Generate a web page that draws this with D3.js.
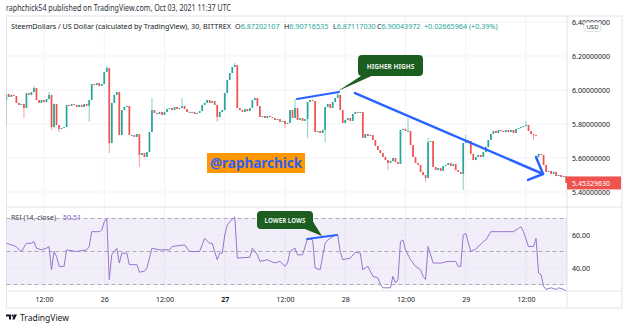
<!DOCTYPE html>
<html>
<head>
<meta charset="utf-8">
<script src="https://cdn.jsdelivr.net/npm/d3@7"></script>
<style>
  body { margin: 0; background: #fff; }
  svg { display: block; font-family: "Noto Sans", "Liberation Sans", sans-serif; }
</style>
</head>
<body>
<svg width="624" height="330"></svg>
<script>
// 30 minute candles, first one opens 2021-09-25 04:30 UTC
const startTime = "2021-09-25T04:30:00Z";
const firstOpen = 5.941;
const closes = [
  5.976, 5.959, 5.971, 5.965, 5.924, 5.912, 5.918, 5.894, 5.982, 5.971,
  5.988, 6.012, 5.941, 5.924, 5.941, 5.929, 5.947, 5.971, 5.782, 5.918,
  5.794, 5.771, 5.776, 5.782, 5.912, 5.906, 5.918, 5.912, 5.900, 5.912,
  5.900, 5.918, 5.906, 5.941, 6.035, 6.029, 6.041, 6.024, 6.035, 6.106,
  6.129, 5.688, 5.924, 5.971, 5.988, 5.735, 5.882, 5.900, 5.906, 5.735,
  5.735, 5.724, 5.741, 5.618, 5.629, 5.606, 5.635, 5.753, 5.882, 5.865,
  5.859, 5.871, 5.853, 5.871, 5.888, 5.894, 5.882, 5.900, 5.888, 5.894,
  5.906, 5.888, 5.871, 5.865, 5.871, 5.859, 5.865, 5.876, 5.912, 5.924,
  5.941, 5.924, 5.935, 5.912, 5.841, 5.871, 5.882, 5.982, 6.059, 6.100,
  6.135, 6.147, 5.894, 5.882, 5.871, 5.888, 5.876, 5.894, 5.941, 5.953,
  5.906, 5.841, 5.847, 5.835, 5.847, 5.841, 5.835, 5.824, 5.829, 5.812,
  5.818, 5.800, 5.806, 5.882, 5.835, 5.894, 5.824, 5.835, 5.818, 5.829,
  5.929, 5.941, 5.935, 5.753, 5.759, 5.747, 5.765, 5.900, 5.918, 5.894,
  5.929, 5.953, 5.971, 5.882, 5.806, 5.824, 5.835, 5.818, 5.859, 5.871,
  5.865, 5.871, 5.718, 5.741, 5.729, 5.735, 5.706, 5.671, 5.647, 5.629,
  5.606, 5.588, 5.571, 5.582, 5.600, 5.576, 5.565, 5.765, 5.771, 5.759,
  5.759, 5.676, 5.606, 5.571, 5.559, 5.518, 5.500, 5.482, 5.694, 5.700,
  5.547, 5.529, 5.541, 5.524, 5.553, 5.559, 5.571, 5.553, 5.565, 5.529,
  5.518, 5.506, 5.688, 5.706, 5.700, 5.624, 5.588, 5.606, 5.618, 5.606,
  5.635, 5.665, 5.706, 5.741, 5.759, 5.747, 5.765, 5.759, 5.753, 5.765,
  5.753, 5.765, 5.747, 5.771, 5.776, 5.782, 5.788, 5.794, 5.759, 5.741,
  5.735, 5.729, 5.624, 5.618, 5.559, 5.518, 5.524, 5.506, 5.518, 5.494,
  5.500, 5.488, 5.494, 5.453
];
// opens that do not equal the previous close
const gapOpens = { 212: 5.606 };
// long wicks: index -> [high, low]
const wicks = {
  0: [null, 5.794], 7: [null, 5.835], 11: [6.024, null], 17: [5.988, null],
  18: [null, 5.765], 21: [null, 5.753], 33: [null, 5.812], 40: [6.141, null],
  41: [null, 5.629], 53: [null, 5.547], 58: [5.953, null], 70: [5.953, null],
  84: [null, 5.812], 91: [6.159, null], 111: [null, 5.776], 115: [5.947, null],
  120: [null, 5.718], 127: [null, 5.694], 132: [5.982, null], 152: [null, 5.529],
  160: [5.835, null], 167: [null, 5.459], 168: [5.718, null], 182: [null, 5.412],
  183: [5.735, null], 207: [5.818, null], 210: [null, 5.706]
};
// RSI(14): [candle index, value]
const rsiPts = [
  [0,55],[2,54],[4,53],[5,51],[6,50],[8,55],[10,55],[11,56],[12,52],[14,51],[16,52],[17,53],
  [18,39],[19,50],[20,47],[21,41],[23,41],[24,51],[28,50],[32,51],[33,53],[34,62],[37,62],
  [38,63],[39,68],[40,70],[41,33],[42,48],[44,52],[45,43],[46,49],[48,49],[49,42],[52,42],
  [53,37.5],[55,38],[56,40],[57,46],[58,52],[61,51],[65,51],[66,53],[71,54],[73,50],[77,50],
  [79,58],[81,55],[82,55],[84,45],[85,49],[86,49],[87,60],[88,66],[89,68],[91,71],[92,46],
  [97,46.5],[98,52],[100,48],[101,44],[104,45],[107,43],[109,44],[111,41],[112,43],[113,50],
  [115,52],[116,48],[118,48],[120,58],[122,57],[123,40],[125,39],[127,55],[128,57],[131,60],
  [132,60],[133,50],[134,45],[137,46],[139,49.5],[141,49],[142,39],[144,41],[146,35],[148,34],
  [149,30],[150,28],[153,28],[154,35],[155,31],[156,33],[157,56],[158,57],[159,51],[161,45],
  [163,41],[165,39],[166,35],[167,33],[168,53],[170,43],[173,43],[176,44],[179,44],[180,41],
  [181,41],[182,60],[183,61],[185,50],[187,51.5],[190,56],[191,57],[193,62],[196,62],[199,62],
  [202,62],[204,64],[205,65],[206,62],[208,53],[209,53],[210,53],[211,58],[212,37],[213,36],
  [214,29],[215,27],[217,28],[219,27],[220,28],[222,27],[223,26]
];
const priceTicks = [5.4, 5.6, 5.8, 6.0, 6.2, 6.4];
const rsiTicks = [40, 60];
const rsiLevels = [70, 50, 30];
const timeTicks = ["2021-09-25T12:00Z", "2021-09-26T00:00Z", "2021-09-26T12:00Z", "2021-09-27T00:00Z",
  "2021-09-27T12:00Z", "2021-09-28T00:00Z", "2021-09-28T12:00Z", "2021-09-29T00:00Z", "2021-09-29T12:00Z"];
const lastPrice = 5.45329630;

// layout
const L = 6.5, R = 567, T = 16, PB = 207, RB = 291, AB = 308, OR = 622;
const svg = d3.select("svg");

const x = d3.scaleUtc()
  .domain([new Date("2021-09-25T12:00Z"), new Date("2021-09-29T12:00Z")])
  .range([44, 526]);
const y = d3.scaleLinear().domain([5.4, 6.4]).range([192, 22]);
const yr = d3.scaleLinear().domain([30, 70]).range([284.5, 218.5]);
const t0 = new Date(startTime).getTime();
const tOf = i => new Date(t0 + i * 30 * 60 * 1000);

const candles = closes.map((c, i) => {
  const o = i === 0 ? firstOpen : (gapOpens[i] !== undefined ? gapOpens[i] : closes[i - 1]);
  const w = wicks[i] || [null, null];
  return {
    t: tOf(i), o, c,
    h: Math.max(o, c, w[0] == null ? -Infinity : w[0]),
    l: Math.min(o, c, w[1] == null ? Infinity : w[1])
  };
});

// clip paths
const defs = svg.append("defs");
defs.append("clipPath").attr("id", "pclip").append("rect").attr("x", L).attr("y", T).attr("width", R - L).attr("height", PB - T);
defs.append("clipPath").attr("id", "rclip").append("rect").attr("x", L).attr("y", PB).attr("width", R - L).attr("height", RB - PB);

// header
svg.append("text").attr("x", 6).attr("y", 11).attr("font-size", 8).attr("fill", "#2a2e39")
  .attr("textLength", 225).attr("lengthAdjust", "spacingAndGlyphs")
  .text("raphchick54 published on TradingView.com, Oct 03, 2021 11:37 UTC");

// grid
const grid = svg.append("g");
grid.selectAll("line.v").data(timeTicks).join("line")
  .attr("x1", d => x(new Date(d))).attr("x2", d => x(new Date(d)))
  .attr("y1", T).attr("y2", RB).attr("stroke", "#f0f3fa");
grid.selectAll("line.h").data(priceTicks).join("line")
  .attr("x1", L).attr("x2", R).attr("y1", d => y(d)).attr("y2", d => y(d)).attr("stroke", "#f0f3fa");

// frame
const frame = svg.append("g").attr("stroke", "#e0e3eb").attr("fill", "none");
frame.append("rect").attr("x", L).attr("y", T).attr("width", OR - L).attr("height", AB - T);
frame.append("line").attr("x1", R).attr("x2", R).attr("y1", T).attr("y2", AB);
frame.append("line").attr("x1", L).attr("x2", OR).attr("y1", PB).attr("y2", PB);
frame.append("line").attr("x1", L).attr("x2", OR).attr("y1", RB).attr("y2", RB);

// legend
const leg = svg.append("text").attr("y", 29).attr("font-size", 7.2).attr("fill", "#131722");
leg.append("tspan").attr("x", 11).attr("textLength", 220).attr("lengthAdjust", "spacingAndGlyphs")
  .text("SteemDollars / US Dollar (calculated by TradingView), 30, BITTREX");
[["O", "6.87202107", 235], ["H", "6.90716535", 284], ["L", "6.87117030", 333], ["C", "6.90043972", 377]]
  .forEach(([k, v, px]) => {
    leg.append("tspan").attr("x", px).text(k);
    leg.append("tspan").attr("fill", "#26a69a").text(v);
  });
leg.append("tspan").attr("x", 424).attr("fill", "#26a69a").text("+0.02665964 (+0.39%)");

// candles
const cg = svg.append("g").attr("clip-path", "url(#pclip)");
const up = "#26a69a", dn = "#ef5350";
const bw = 1.7;
cg.selectAll("line.wick").data(candles).join("line")
  .attr("x1", d => x(d.t)).attr("x2", d => x(d.t))
  .attr("y1", d => y(d.h)).attr("y2", d => y(d.l))
  .attr("stroke", d => d.c >= d.o ? up : dn).attr("stroke-opacity", 0.55).attr("stroke-width", 1);
cg.selectAll("rect.body").data(candles).join("rect")
  .attr("x", d => x(d.t) - bw / 2).attr("width", bw)
  .attr("y", d => y(Math.max(d.o, d.c)))
  .attr("height", d => Math.max(1, Math.abs(y(d.o) - y(d.c))))
  .attr("fill", d => d.c >= d.o ? up : dn);

// price axis
const pAxis = svg.append("g").attr("transform", `translate(${R},0)`)
  .call(d3.axisRight(y).tickValues(priceTicks).tickFormat(d3.format(".8f")).tickSize(0).tickPadding(5));
pAxis.select(".domain").remove();
pAxis.selectAll("text").attr("font-size", 7).attr("fill", "#131722").attr("font-family", "Noto Sans");
// USD badge
svg.append("rect").attr("x", 584).attr("y", 22.5).attr("width", 17).attr("height", 9).attr("rx", 2)
  .attr("fill", "#fff").attr("stroke", "#d1d4dc").attr("stroke-width", 0.7);
svg.append("text").attr("x", 592.5).attr("y", 29.3).attr("text-anchor", "middle").attr("font-size", 6)
  .attr("fill", "#131722").text("USD");
// last price label
svg.append("rect").attr("x", R).attr("y", y(lastPrice) - 6.5).attr("width", 54).attr("height", 13).attr("fill", "#ef5350");
svg.append("text").attr("x", R + 5).attr("y", y(lastPrice) + 2.6).attr("font-size", 7).attr("fill", "#fff")
  .text(d3.format(".8f")(lastPrice));

// watermark
svg.append("rect").attr("x", 207).attr("y", 153).attr("width", 98).attr("height", 20).attr("fill", "#ff9800");
svg.append("text").attr("x", 256).attr("y", 168).attr("text-anchor", "middle").attr("font-size", 15)
  .attr("font-weight", "bold").attr("fill", "#2f5ff0")
  .attr("textLength", 92).attr("lengthAdjust", "spacingAndGlyphs").text("@rapharchick");

// RSI pane
const rg = svg.append("g").attr("clip-path", "url(#rclip)");
rg.append("rect").attr("x", L).attr("width", R - L).attr("y", yr(70)).attr("height", yr(30) - yr(70))
  .attr("fill", "#7e57c2").attr("fill-opacity", 0.1);
rg.selectAll("line.rg").data(rsiTicks).join("line")
  .attr("x1", L).attr("x2", R).attr("y1", d => yr(d)).attr("y2", d => yr(d)).attr("stroke", "#ebe6f5");
rg.selectAll("line.lvl").data(rsiLevels).join("line")
  .attr("x1", L).attr("x2", R).attr("y1", d => yr(d)).attr("y2", d => yr(d))
  .attr("stroke", "#9598a1").attr("stroke-dasharray", "4,3").attr("stroke-width", 0.8);
rg.append("path").datum(rsiPts)
  .attr("d", d3.line().x(d => x(tOf(d[0]))).y(d => yr(d[1])))
  .attr("fill", "none").attr("stroke", "#9575cd").attr("stroke-width", 1);

const rl = svg.append("text").attr("x", 11).attr("y", 220).attr("font-size", 7);
rl.append("tspan").attr("fill", "#434651").text("RSI (14, close)");
rl.append("tspan").attr("x", 63).attr("fill", "#7e57c2").text("50.51");

const rAxis = svg.append("g").attr("transform", `translate(${R},0)`)
  .call(d3.axisRight(yr).tickValues(rsiTicks).tickFormat(d3.format(".2f")).tickSize(0).tickPadding(5));
rAxis.select(".domain").remove();
rAxis.selectAll("text").attr("font-size", 7).attr("fill", "#131722").attr("font-family", "Noto Sans");

// time axis
const tAxis = svg.append("g").attr("transform", `translate(0,${RB})`)
  .call(d3.axisBottom(x).tickValues(timeTicks.map(d => new Date(d))).tickSize(0).tickPadding(6)
    .tickFormat(d => d.getUTCHours() === 0 ? String(d.getUTCDate()) : "12:00"));
tAxis.select(".domain").remove();
tAxis.selectAll("text").attr("font-size", 7).attr("fill", "#131722").attr("font-family", "Noto Sans")
  .attr("font-weight", d => d.getUTCDate() === 27 && d.getUTCHours() === 0 ? "bold" : null);

// drawings
const blue = "#2962ff";
const dg = svg.append("g").attr("stroke", blue).attr("stroke-linecap", "round").attr("fill", "none");
dg.append("line").attr("x1", x(tOf(115.8))).attr("y1", y(5.947)).attr("x2", x(tOf(132.5))).attr("y2", y(5.988)).attr("stroke-width", 2);
dg.append("line").attr("x1", x(tOf(138.9))).attr("y1", y(5.982)).attr("x2", x(tOf(213.8))).attr("y2", y(5.506)).attr("stroke-width", 2.5);
dg.append("polyline").attr("stroke-width", 2.5).attr("stroke-linejoin", "round")
  .attr("points", [[211, 5.606], [213.8, 5.506], [207.8, 5.471]].map(p => [x(tOf(p[0])), y(p[1])].join(",")).join(" "));
dg.append("line").attr("x1", x(tOf(119.8))).attr("y1", yr(57.6)).attr("x2", x(tOf(131.7))).attr("y2", yr(60)).attr("stroke-width", 2);

// callouts
const green = "#1b5e20";
const hh = svg.append("g");
hh.append("path").attr("d", "M364,74 L338,91 L376,74 Z").attr("fill", green);
hh.append("rect").attr("x", 358).attr("y", 55).attr("width", 65).attr("height", 21).attr("rx", 4).attr("fill", green);
hh.append("text").attr("x", 390.5).attr("y", 68.5).attr("text-anchor", "middle").attr("font-size", 6.5)
  .attr("font-weight", "bold").attr("fill", "#e8f0e8").text("HIGHER HIGHS");
const ll = svg.append("g");
ll.append("path").attr("d", "M300,227 L322,236 L312,220 Z").attr("fill", green);
ll.append("rect").attr("x", 257).attr("y", 211).attr("width", 56).attr("height", 18).attr("rx", 4).attr("fill", green);
ll.append("text").attr("x", 285).attr("y", 222.5).attr("text-anchor", "middle").attr("font-size", 6.2)
  .attr("font-weight", "bold").attr("fill", "#e8f0e8").text("LOWER LOWS");

// footer logo
const lg = svg.append("g").attr("fill", "#131722");
lg.append("path").attr("d", "M6,314.5 h5 v5 h-2 v-3 h-3 Z");
lg.append("circle").attr("cx", 12.6).attr("cy", 315.6).attr("r", 1.1);
lg.append("path").attr("d", "M14,314.5 h3 l-2.5,5 h-2.2 Z");
svg.append("text").attr("x", 20).attr("y", 320.5).attr("font-size", 8.5).attr("fill", "#131722").text("TradingView");
</script>
</body>
</html>
